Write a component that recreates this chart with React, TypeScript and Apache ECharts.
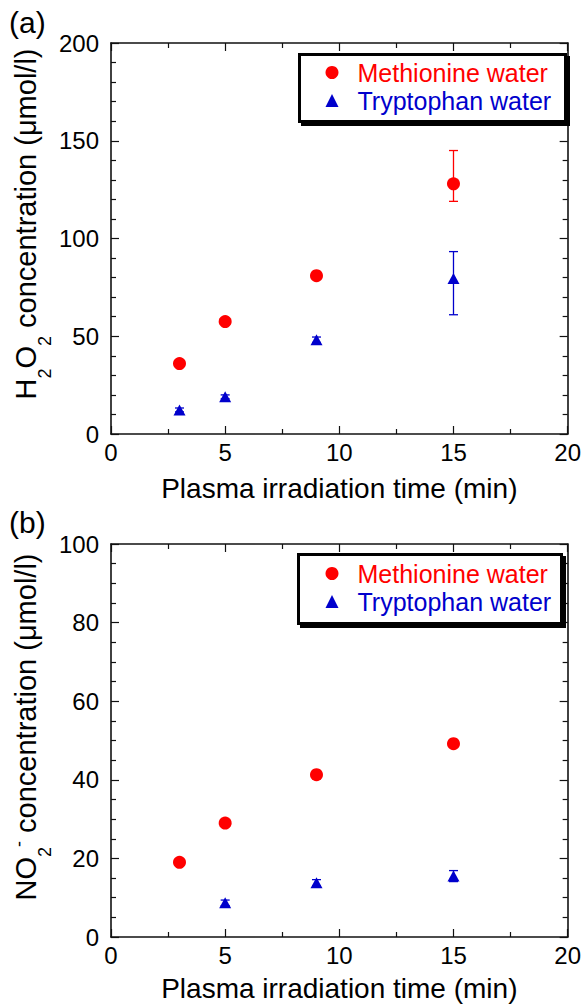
import React, { useEffect, useRef } from "react";
import * as echarts from "echarts";

// ---- data ----
const timeMin = [3, 5, 9, 15];

const h2o2Met = [36, 57.5, 81, 128];
const h2o2MetLow = [35, 56.2, 79.8, 119];
const h2o2MetHigh = [37, 58.8, 82.2, 145];

const h2o2Trp = [12.3, 19, 48.2, 79.6];
const h2o2TrpLow = [11.3, 18, 46.8, 61];
const h2o2TrpHigh = [13.3, 20, 49.6, 93.3];

const no2Met = [19, 29, 41.3, 49.2];
const no2MetLow = [18.5, 28.3, 40.2, 48.5];
const no2MetHigh = [19.5, 29.7, 42.3, 49.9];

const no2TrpTime = [5, 9, 15];
const no2Trp = [8.7, 13.8, 15.5];
const no2TrpLow = [8.0, 13.0, 14.1];
const no2TrpHigh = [9.4, 14.6, 16.9];

const xTicks = { min: 0, max: 20, interval: 5 };
const yTicksA = { min: 0, max: 200, interval: 50, minor: 5 };
const yTicksB = { min: 0, max: 100, interval: 20, minor: 4 };

const nameMet = "Methionine water";
const nameTrp = "Tryptophan water";
const xTitle = "Plasma irradiation time (min)";

const RED = "#ff0000";
const BLUE = "#0000cc";
const FONT = "'Liberation Sans', Arial, sans-serif";

const pts = (xs: number[], ys: number[]) => xs.map((x, i) => [x, ys[i]]);
const errs = (xs: number[], lo: number[], hi: number[]) =>
  xs.map((x, i) => [x, lo[i], hi[i]]);

const axisLine = { color: "#111", width: 1.6 };
const tickLine = { color: "#111", width: 1.2 };

function xAxes(gridIndex: number) {
  const base = {
    gridIndex,
    type: "value",
    min: xTicks.min,
    max: xTicks.max,
    interval: xTicks.interval,
    axisLine: { show: true, onZero: false, lineStyle: axisLine },
    axisTick: { show: true, inside: true, length: 8, lineStyle: tickLine },
    minorTick: { show: true, splitNumber: 2, length: 5, lineStyle: tickLine },
    splitLine: { show: false },
  };
  return [
    {
      ...base,
      position: "bottom",
      axisLabel: { fontSize: 24, color: "#000", margin: 6, fontFamily: FONT },
      name: xTitle,
      nameLocation: "middle",
      nameGap: gridIndex === 0 ? 40 : 37,
      nameTextStyle: { fontSize: 28, color: "#000", fontFamily: FONT },
    },
    { ...base, position: "top", axisLabel: { show: false } },
  ];
}

function yAxes(gridIndex: number, t: { min: number; max: number; interval: number; minor: number }) {
  const base = {
    gridIndex,
    type: "value",
    min: t.min,
    max: t.max,
    interval: t.interval,
    axisLine: { show: true, onZero: false, lineStyle: axisLine },
    axisTick: { show: true, inside: true, length: 8, lineStyle: tickLine },
    minorTick: { show: true, splitNumber: t.minor, length: 5, lineStyle: tickLine },
    splitLine: { show: false },
  };
  return [
    {
      ...base,
      position: "left",
      axisLabel: { fontSize: 24, color: "#000", margin: 12, fontFamily: FONT },
    },
    { ...base, position: "right", axisLabel: { show: false } },
  ];
}

function errorSeries(name: string, data: number[][], color: string, xi: number, yi: number) {
  return {
    type: "custom",
    name,
    xAxisIndex: xi,
    yAxisIndex: yi,
    z: 1,
    silent: true,
    data,
    encode: { x: 0, y: [1, 2] },
    renderItem: (params: any, api: any) => {
      const x = api.value(0);
      const top = api.coord([x, api.value(2)]);
      const bot = api.coord([x, api.value(1)]);
      const cw = 4.5;
      const st = { stroke: color, lineWidth: 1.3 };
      return {
        type: "group",
        children: [
          { type: "line", shape: { x1: top[0], y1: top[1], x2: bot[0], y2: bot[1] }, style: st },
          { type: "line", shape: { x1: top[0] - cw, y1: top[1], x2: top[0] + cw, y2: top[1] }, style: st },
          { type: "line", shape: { x1: bot[0] - cw, y1: bot[1], x2: bot[0] + cw, y2: bot[1] }, style: st },
        ],
      };
    },
  };
}

function legendBox(top: number, left: number, w: number, h: number) {
  return [
    { type: "rect", z: 3, shape: { x: left + 3, y: top + 3, width: w, height: h }, style: { fill: "#000" } },
    {
      type: "rect",
      z: 3,
      shape: { x: left + 1.5, y: top + 1.5, width: w - 3, height: h - 3 },
      style: { fill: "#fff", stroke: "#000", lineWidth: 3 },
    },
  ];
}

function legendFor(top: number) {
  return {
    show: true,
    orient: "vertical",
    left: 325.5,
    top,
    padding: 0,
    itemWidth: 13,
    itemHeight: 13,
    itemGap: 3,
    z: 5,
    selectedMode: false,
    textStyle: { fontSize: 25, fontFamily: FONT, padding: [0, 0, 0, 14] },
    data: [
      { name: nameMet, icon: "circle", itemStyle: { color: RED, opacity: 1 }, textStyle: { color: RED } },
      { name: nameTrp, icon: "triangle", itemStyle: { color: BLUE, opacity: 1 }, textStyle: { color: BLUE } },
    ],
  };
}

// rich tokens are middle-aligned; vertical shifts are made with asymmetric padding
const richBase = {
  m: { fontSize: 29, fontFamily: FONT, color: "#000", lineHeight: 34 },
  s: { fontSize: 18, fontFamily: FONT, color: "#000", lineHeight: 18, padding: [39, 0, 0, 0] },
  p: { fontSize: 18, fontFamily: FONT, color: "#000", lineHeight: 18, padding: [0, 0, 14, 0] },
};

export default function App() {
  const ref = useRef<HTMLDivElement>(null);
  useEffect(() => {
    if (!ref.current) return;
    const chart = echarts.init(ref.current, null, { renderer: "svg" });
    const option = {
      animation: false,
      backgroundColor: "#fff",
      grid: [
        { left: 111, top: 43, width: 459, height: 391 },
        { left: 111, top: 544, width: 459, height: 393 },
      ],
      xAxis: [...xAxes(0), ...xAxes(1)],
      yAxis: [...yAxes(0, yTicksA), ...yAxes(1, yTicksB)],
      legend: [legendFor(60), legendFor(561)],
      graphic: [
        ...legendBox(53, 298, 269, 70),
        ...legendBox(553, 297, 266, 72),
        {
          type: "text",
          left: 9,
          top: 7,
          style: { text: "(a)", fontSize: 30, fontFamily: FONT, fill: "#000" },
        },
        {
          type: "text",
          left: 9,
          top: 507,
          style: { text: "(b)", fontSize: 30, fontFamily: FONT, fill: "#000" },
        },
        {
          type: "text",
          x: 25.5,
          y: 224,
          rotation: Math.PI / 2,
          style: {
            text: "{m|H}{s|2}{m|O}{s|2}{m| concentration (μmol/l)}",
            rich: richBase,
            align: "center",
            verticalAlign: "middle",
          },
        },
        {
          type: "text",
          x: 25.5,
          y: 727,
          rotation: Math.PI / 2,
          style: {
            text: "{m|NO}{s|2}{p|-}{m| concentration (μmol/l)}",
            rich: richBase,
            align: "center",
            verticalAlign: "middle",
          },
        },
      ],
      series: [
        errorSeries("errMetA", errs(timeMin, h2o2MetLow, h2o2MetHigh), RED, 0, 0),
        errorSeries("errTrpA", errs(timeMin, h2o2TrpLow, h2o2TrpHigh), BLUE, 0, 0),
        {
          type: "scatter",
          name: nameMet,
          xAxisIndex: 0,
          yAxisIndex: 0,
          z: 2,
          symbol: "circle",
          symbolSize: 13,
          itemStyle: { color: RED, opacity: 1 },
          data: pts(timeMin, h2o2Met),
        },
        {
          type: "scatter",
          name: nameTrp,
          xAxisIndex: 0,
          yAxisIndex: 0,
          z: 2,
          symbol: "triangle",
          symbolSize: [12, 11],
          itemStyle: { color: BLUE, opacity: 1 },
          data: pts(timeMin, h2o2Trp),
        },
        errorSeries("errMetB", errs(timeMin, no2MetLow, no2MetHigh), RED, 2, 2),
        errorSeries("errTrpB", errs(no2TrpTime, no2TrpLow, no2TrpHigh), BLUE, 2, 2),
        {
          type: "scatter",
          name: nameMet,
          xAxisIndex: 2,
          yAxisIndex: 2,
          z: 2,
          symbol: "circle",
          symbolSize: 13,
          itemStyle: { color: RED, opacity: 1 },
          data: pts(timeMin, no2Met),
        },
        {
          type: "scatter",
          name: nameTrp,
          xAxisIndex: 2,
          yAxisIndex: 2,
          z: 2,
          symbol: "triangle",
          symbolSize: [12, 11],
          itemStyle: { color: BLUE, opacity: 1 },
          data: pts(no2TrpTime, no2Trp),
        },
      ],
    };
    chart.setOption(option as any);
    return () => chart.dispose();
  }, []);
  return (
    <div
      ref={ref}
      style={{ position: "absolute", left: 0, top: 0, width: 584, height: 1005 }}
    />
  );
}
